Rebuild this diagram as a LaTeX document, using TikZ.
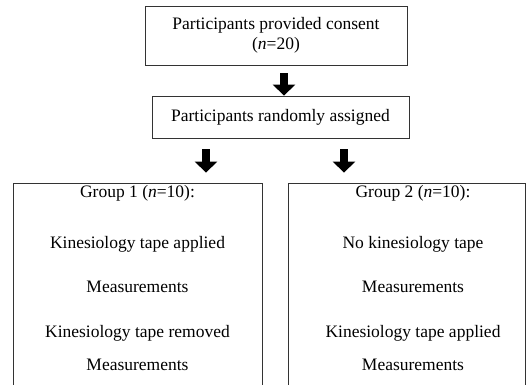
\documentclass[tikz,border=0pt]{standalone}
\usepackage{fontspec}
\setmainfont{Liberation Serif}
\usetikzlibrary{arrows.meta}

\begin{document}
\begin{tikzpicture}[x=1pt,y=-1pt]
        \tikzstyle{every node}+=[inner sep=0pt, font=\fontsize{17.5}{20.5}\selectfont]
        \tikzstyle{stepbox}=[draw=black!80, line width=0.8pt]
        \tikzstyle{bigarrow}=[line width=8pt, -{Triangle[width=22pt,length=11pt]}]
        \useasboundingbox (0,0) rectangle (527,385);
        \clip (0,0) rectangle (527,385);
        \node [stepbox, minimum width=262pt, minimum height=59pt, align=center] (consent) at (276,35.5) {Participants provided consent\\(\textit{n}=20)};
        \node [stepbox, minimum width=257pt, minimum height=42pt] (assigned) at (280.5,117) {Participants randomly assigned};
        \node [stepbox, minimum width=249pt, minimum height=237pt] (group1) at (137.5,301.5) {};
        \node [stepbox, minimum width=237pt, minimum height=237pt] (group2) at (406.5,301.5) {};
        \draw [bigarrow] ([xshift=8pt,yshift=-8pt]consent.south) -- ([xshift=3.5pt]assigned.north);
        \draw [bigarrow] ([xshift=-74.5pt,yshift=-11pt]assigned.south) -- ([xshift=68.5pt,yshift=10pt]group1.north);
        \draw [bigarrow] ([xshift=63.5pt,yshift=-11pt]assigned.south) -- ([xshift=-62.5pt,yshift=10pt]group2.north);
        \node [anchor=base] (g1head) at (137.5,197) {Group 1 (\textit{n}=10):};
        \node [anchor=base] (g1tape) at (137.5,248) {Kinesiology tape applied};
        \node [anchor=base] (g1meas) at (137.5,292) {Measurements};
        \node [anchor=base] (g1off) at (137.5,337) {Kinesiology tape removed};
        \node [anchor=base] (g1meas2) at (137.5,370) {Measurements};
        \node [anchor=base] (g2head) at (413,197) {Group 2 (\textit{n}=10):};
        \node [anchor=base] (g2none) at (413,248) {No kinesiology tape};
        \node [anchor=base] (g2meas) at (413,292) {Measurements};
        \node [anchor=base] (g2tape) at (413,337) {Kinesiology tape applied};
        \node [anchor=base] (g2meas2) at (413,370) {Measurements};
\end{tikzpicture}
\end{document}
